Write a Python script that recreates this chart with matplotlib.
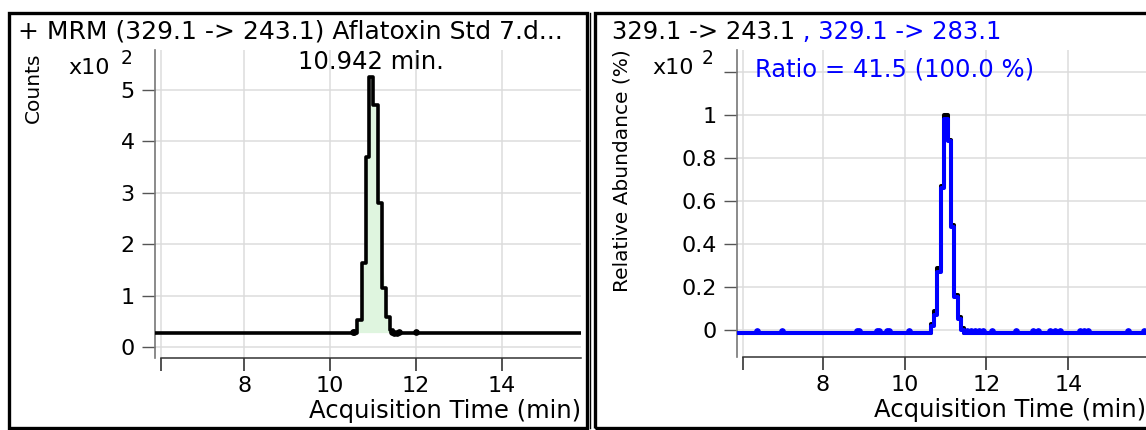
import numpy as np
import matplotlib
matplotlib.use('Agg')
import matplotlib.pyplot as plt
from matplotlib.patches import Rectangle
from matplotlib.lines import Line2D

plt.rcParams['font.family'] = ['DejaVu Sans']

W, H = 1146, 430

# left panel: 329.1 -> 243.1, counts (x10^2), step centres
t_cnt = [5.9, 10.57, 10.69, 10.79, 10.87, 10.95, 11.055, 11.16, 11.265, 11.365, 11.425, 11.5, 16.0]
cnt = [0.28, 0.28, 0.52, 1.63, 3.7, 5.25, 4.7, 2.8, 1.15, 0.58, 0.33, 0.28, 0.28]
cnt_base = 0.28
peak_lo, peak_hi = 10.55, 11.5
dot_t_cnt = [10.53, 10.57, 11.45, 11.5, 11.55, 11.6, 12.0]
dot_cnt = [0.30, 0.30, 0.29, 0.28, 0.28, 0.29, 0.30]

# right panel: relative abundance (x10^2)
t_rel = [5.9, 10.60, 10.68, 10.76, 10.84, 10.92, 11.005, 11.09, 11.175, 11.26, 11.34, 11.415, 11.49, 16.0]
rel_243 = [-0.014, -0.014, 0.03, 0.09, 0.29, 0.67, 1.0, 0.885, 0.49, 0.165, 0.06, 0.01, -0.014, -0.014]
rel_283 = [-0.014, -0.014, 0.02, 0.07, 0.27, 0.66, 0.98, 0.88, 0.48, 0.155, 0.05, 0.0, -0.014, -0.014]
dot_t_rel = [6.39, 7.0, 8.83, 8.88, 9.32, 9.37, 9.57, 9.62, 10.11, 11.52, 11.62, 11.72, 11.82,
             11.91, 12.13, 12.72, 13.14, 13.26, 13.55, 13.68, 13.8, 14.29, 14.38, 14.48, 15.46, 15.85]
dot_rel = [-0.004] * len(dot_t_rel)

left_title = '+ MRM (329.1 -> 243.1) Aflatoxin Std 7.d...'
rt_label = '10.942 min.'
ratio_text = 'Ratio = 41.5 (100.0 %)'


def px_box(l, t, r, b):
    return [l / W, 1 - b / H, (r - l) / W, (b - t) / H]


def style(ax, xlim, ylim, yticks, ylabels):
    ax.set_xlim(xlim)
    ax.set_ylim(ylim)
    ax.set_xticks([6.05, 8, 10, 12, 14], ['', '8', '10', '12', '14'])
    ax.set_yticks(yticks, ylabels)
    ax.grid(True, color='#dcdcdc', lw=1.1)
    ax.set_axisbelow(True)
    for s in ['top', 'right']:
        ax.spines[s].set_visible(False)
    ax.spines['left'].set_color('#777777')
    ax.spines['left'].set_linewidth(1.2)
    ax.spines['bottom'].set_bounds(6.05, xlim[1])
    ax.spines['bottom'].set_color('#333333')
    ax.spines['bottom'].set_linewidth(1.1)
    ax.tick_params(axis='y', direction='out', length=9.5, width=1, color='#555555', pad=5, labelsize=16)
    ax.tick_params(axis='x', direction='out', length=9, width=1.2, color='#333333', pad=4, labelsize=16)
    ax.set_xlabel('Acquisition Time (min)', loc='right', fontsize=17.5, labelpad=2)


fig = plt.figure(figsize=(W / 100, H / 100), dpi=100)

# panel frames
fig.add_artist(Rectangle((9 / W, 2 / H), 578 / W, 415 / H, transform=fig.transFigure,
                         fill=False, ec='black', lw=2.4))
fig.add_artist(Line2D([590 / W, 590 / W], [2 / H, 417 / H], transform=fig.transFigure, color='black', lw=1))
fig.add_artist(Rectangle((595 / W, 2 / H), 600 / W, 415 / H, transform=fig.transFigure,
                         fill=False, ec='black', lw=2.4))

# left panel
ax1 = fig.add_axes(px_box(155, 50, 581, 358))
tc = np.array(t_cnt)
cc = np.array(cnt)
m = (tc >= peak_lo) & (tc <= peak_hi)
ax1.fill_between(tc[m], cc[m], cnt_base, color='#dff5df', lw=0, zorder=2)
ax1.plot(t_cnt, cnt, drawstyle='steps-mid', color='black', lw=2.6, zorder=3)
ax1.plot(dot_t_cnt, dot_cnt, 'o', color='black', ms=3.8, zorder=4)
style(ax1, (5.92, 15.85), (-0.214, 5.778), [0, 1, 2, 3, 4, 5], ['0', '1', '2', '3', '4', '5'])
ax1.annotate(rt_label, xy=(10.942, 5.54), ha='center', va='center', fontsize=17.5)

fig.text(18 / W, 1 - 32 / H, left_title, fontsize=18, va='center', ha='left')
fig.text(33 / W, 1 - 88 / H, 'Counts', rotation=90, fontsize=14.5, ha='center', va='center')
fig.text(68 / W, 1 - 74 / H, 'x10', fontsize=16, ha='left', va='baseline')
fig.text(121 / W, 1 - 64 / H, '2', fontsize=13.5, ha='left', va='baseline')

# right panel
ax2 = fig.add_axes(px_box(737, 50, 1146, 357))
ax2.plot(t_rel, rel_243, drawstyle='steps-mid', color='black', lw=2.9, zorder=3)
ax2.plot(t_rel, rel_283, drawstyle='steps-mid', color='#0000ff', lw=2.9, zorder=4)
ax2.plot(dot_t_rel, dot_rel, 'o', color='#0000ff', ms=3.8, zorder=5)
style(ax2, (5.9, 15.9), (-0.1256, 1.302), [0, 0.2, 0.4, 0.6, 0.8, 1.0, 1.2],
      ['0', '0.2', '0.4', '0.6', '0.8', '1', ''])
ax2.text(0.044, 0.935, ratio_text, transform=ax2.transAxes, color='#0000ff', fontsize=17.5,
         ha='left', va='center')

t1 = fig.text(612 / W, 1 - 32 / H, '329.1 -> 243.1', fontsize=17.5, va='center', ha='left')
ax2.annotate(' , 329.1 -> 283.1', xy=(1, 0), xycoords=t1, va='bottom', ha='left',
             fontsize=17.5, color='#0000ff', annotation_clip=False)
fig.text(622 / W, 1 - 171 / H, 'Relative Abundance (%)', rotation=90, fontsize=14.5, ha='center', va='center')
fig.text(652 / W, 1 - 74 / H, 'x10', fontsize=16, ha='left', va='baseline')
fig.text(702 / W, 1 - 64 / H, '2', fontsize=13.5, ha='left', va='baseline')

fig.savefig('out.png', dpi=100)
